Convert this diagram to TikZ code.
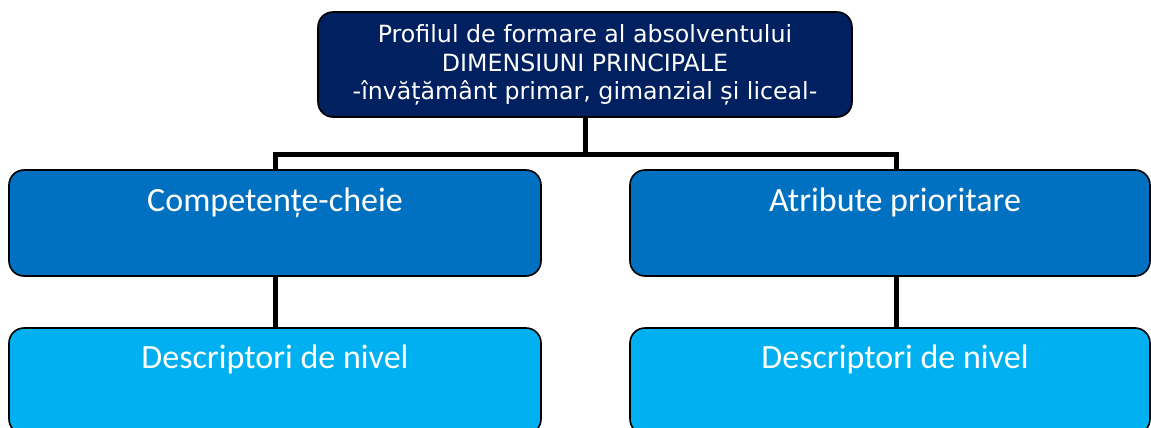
\documentclass[tikz,border=0pt]{standalone}
\usepackage{fontspec}
\newfontfamily\topfont{DejaVu Sans}
\newfontfamily\boxfont{Carlito}
\definecolor{navy}{HTML}{002060}
\definecolor{midblue}{HTML}{0070C0}
\definecolor{lightblue}{HTML}{00B0F0}
\pgfdeclarelayer{background}
\pgfsetlayers{background,main}
\tikzset{
  box/.style={draw=black, line width=1.6pt, rounded corners=15pt, inner sep=0pt, anchor=center},
  topbox/.style={box, fill=navy, minimum width=534pt, minimum height=105pt},
  midbox/.style={box, fill=midblue, minimum height=106pt},
  lowbox/.style={box, fill=lightblue, minimum height=106pt},
  toptext/.style={text=white, font=\topfont\fontsize{23.7}{28.5}\selectfont, align=center, inner sep=0pt, anchor=base},
  boxtext/.style={text=white, font=\boxfont\fontsize{34}{40}\selectfont, inner sep=0pt, anchor=base},
  conn/.style={draw=black, line width=5pt, line join=miter}
}
\begin{document}
\begin{tikzpicture}[x=1pt,y=-1pt]
\useasboundingbox (0,0) rectangle (1151,428);
\clip (0,0) rectangle (1151,428);
% junction coordinates
\coordinate (jn) at (585,154);
\coordinate (jl) at (275,154);
\coordinate (jr) at (896,154);
% boxes
\node[topbox] (top) at (585,64.5) {};
\node[midbox, minimum width=532pt] (midL) at (275,223) {};
\node[midbox, minimum width=520pt] (midR) at (890,223) {};
\node[lowbox, minimum width=532pt] (lowL) at (275,381) {};
\node[lowbox, minimum width=520pt] (lowR) at (890,381) {};
% connectors behind boxes
\begin{pgfonlayer}{background}
\fill[white] (0,0) rectangle (1151,428);
\path[conn] (top.south) -- (jn);
\path[conn] (jl |- midL.north) -- (jl) -- (jr) -- (jr |- midR.north);
\path[conn] (midL.south) -- (lowL.north);
\path[conn] (jr |- midR.south) -- (jr |- lowR.north);
\end{pgfonlayer}
% texts
\node[toptext] (toptxt) at (585,99.5) {Profilul de formare al absolventului\\DIMENSIUNI PRINCIPALE\\-învățământ primar, gimanzial și liceal-};
\node[boxtext] (tL) at (275,211) {Competențe-cheie};
\node[boxtext] (tR) at (895,211) {Atribute prioritare};
\node[boxtext] (dL) at (275,368) {Descriptori de nivel};
\node[boxtext] (dR) at (895,368) {Descriptori de nivel};
\end{tikzpicture}
\end{document}
